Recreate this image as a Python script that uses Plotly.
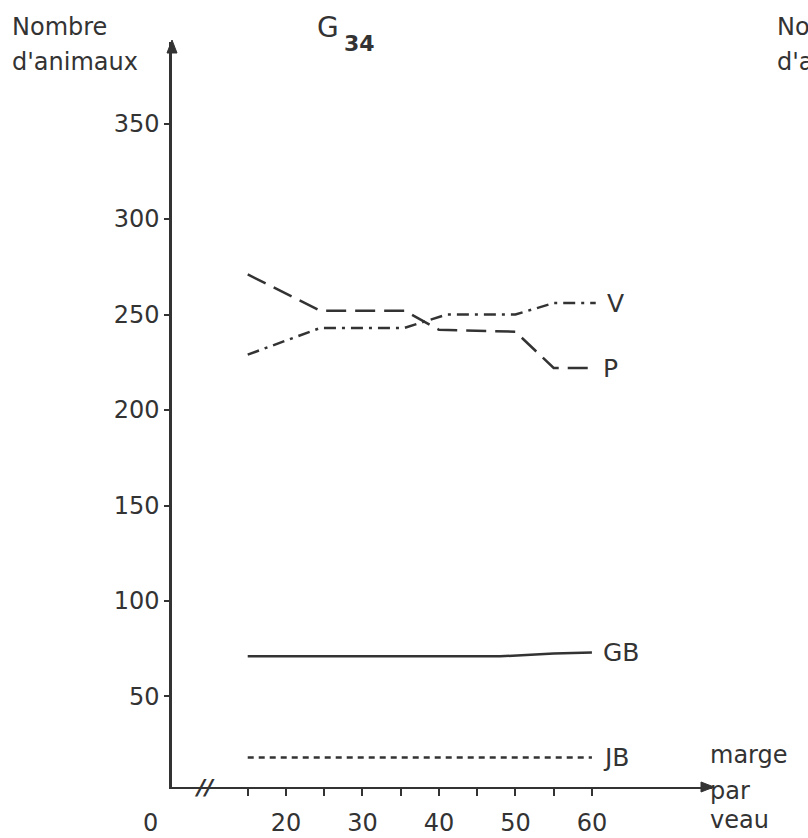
import plotly.graph_objects as go

# ---- data ----
p_x = [15, 24.5, 35.5, 40, 50, 55, 60]
p_y = [271, 252, 252, 242, 241, 222, 222]

v_x = [15, 24.5, 35.5, 41, 50, 55, 60.5]
v_y = [229, 243, 243, 250, 250, 256, 256]

gb_x = [15, 20, 30, 40, 48, 55, 60]
gb_y = [71, 71, 71, 71, 71, 72.5, 73]

jb_x = [15, 30, 45, 60]
jb_y = [18, 18, 18, 18]

x_tickvals = [15, 20, 25, 30, 35, 40, 45, 50, 55, 60]
x_ticktext = ["", "20", "", "30", "", "40", "", "50", "", "60"]
y_tickvals = [50, 100, 150, 200, 250, 300, 350]
y_ticktext = ["50", "100", "150", "200", "250", "300", "350"]

INK = "#333333"
FONT = "DejaVu Sans"

fig = go.Figure()

series = [
    ("P", p_x, p_y, "20px,9px"),
    ("V", v_x, v_y, "12px,6px,3px,6px"),
    ("GB", gb_x, gb_y, "solid"),
    ("JB", jb_x, jb_y, "6px,5px"),
]
for name, xs, ys, dash in series:
    fig.add_trace(go.Scatter(x=xs, y=ys, mode="lines", name=name,
                             line=dict(color=INK, width=2.5, dash=dash),
                             showlegend=False, hoverinfo="skip"))
    fig.add_annotation(x=xs[-1], y=ys[-1], xref="x", yref="y", text=name,
                       showarrow=False, xanchor="left", yanchor="middle",
                       xshift=9, font=dict(family=FONT, size=25, color=INK))

W, H = 808, 838
L, R, T, B = 172, 96, 42, 51
pw, ph = W - L - R, H - T - B

def px(xp):  # page pixel -> paper
    return (xp - L) / pw

def py(yp):
    return (H - B - yp) / ph

texts = [
    ("Nombre", 10, 27, "left", 24),
    ("d'animaux", 10, 62, "left", 24),
    ("Nombre", 775, 27, "left", 24),
    ("d'animaux", 775, 62, "left", 24),
    ("marge", 708, 755, "left", 24),
    ("par", 708, 791, "left", 24),
    ("veau", 708, 820, "left", 24),
    ("0", 150, 823, "center", 24),
    ("G", 315, 28, "left", 28),
    ("<b>34</b>", 342, 44, "left", 22),
]
for t, xx, yy, anc, sz in texts:
    fig.add_annotation(x=px(xx), y=py(yy), xref="paper", yref="paper", text=t,
                       showarrow=False, xanchor=anc, yanchor="middle",
                       font=dict(family=FONT, size=sz, color=INK))

# axis break mark
fig.add_annotation(x=px(204), y=py(787), xref="paper", yref="paper",
                   text="<b><i>//</i></b>", showarrow=False, xanchor="center",
                   yanchor="middle", font=dict(family=FONT, size=22, color=INK))

# axis arrowheads (pixel-sized shapes anchored at the axis ends)
fig.add_shape(type="path", xref="paper", yref="paper",
              xsizemode="pixel", ysizemode="pixel", xanchor=1, yanchor=0,
              path="M2,0 L-11,5 L-11,-5 Z", fillcolor=INK,
              line=dict(color=INK, width=1))
fig.add_shape(type="path", xref="paper", yref="paper",
              xsizemode="pixel", ysizemode="pixel", xanchor=0, yanchor=1,
              path="M0,2 L-5,-11 L5,-11 Z", fillcolor=INK,
              line=dict(color=INK, width=1))

fig.update_xaxes(range=[5.1, 75.7], showgrid=False, zeroline=False,
                 showline=True, linecolor=INK, linewidth=2, automargin=False,
                 tickvals=x_tickvals, ticktext=x_ticktext,
                 ticks="outside", ticklen=7, tickwidth=1.5, tickcolor=INK,
                 ticklabelstandoff=6,
                 tickfont=dict(family=FONT, size=24, color=INK))
fig.update_yaxes(range=[2.6, 392.7], showgrid=False, zeroline=False,
                 showline=True, linecolor=INK, linewidth=2.5, automargin=False,
                 tickvals=y_tickvals, ticktext=y_ticktext,
                 ticks="outside", ticklen=5, tickwidth=1.5, tickcolor=INK,
                 tickfont=dict(family=FONT, size=24, color=INK))

fig.update_layout(width=W, height=H, margin=dict(l=L, r=R, t=T, b=B),
                  paper_bgcolor="white", plot_bgcolor="white",
                  showlegend=False)

# remove the browser's default 8px page margin so the figure fills the window
fig.write_html("out.html",
               config={"displayModeBar": False},
               post_script="document.body.style.margin='0';"
                           "document.body.style.overflow='hidden';")
